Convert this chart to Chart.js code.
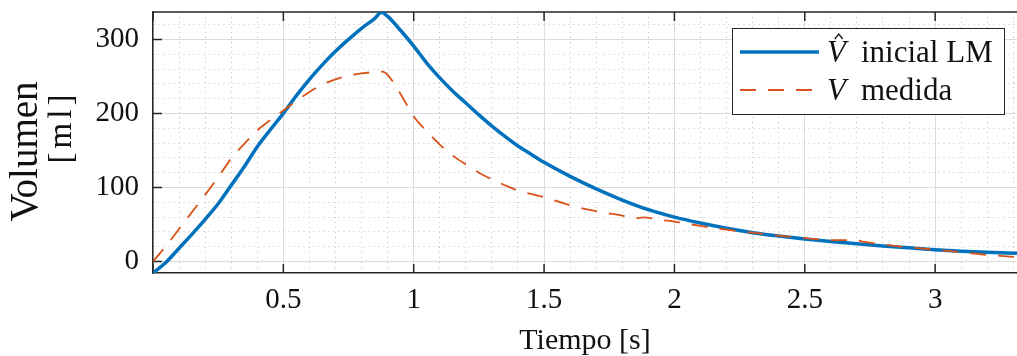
<!DOCTYPE html>
<html><head><meta charset="utf-8">
<script src="https://cdn.jsdelivr.net/npm/chart.js@4.4.1/dist/chart.umd.min.js"></script>
<style>html,body{margin:0;padding:0;background:#fff;overflow:hidden}</style>
</head><body>
<canvas id="c" width="1017" height="356"></canvas>
<script>
// ---- data ----
const tBlue = [0.000, 0.050, 0.100, 0.150, 0.200, 0.250, 0.290, 0.350, 0.400, 0.450, 0.500, 0.550, 0.600, 0.650, 0.700, 0.750, 0.800, 0.850, 0.876, 0.900, 0.950, 1.000, 1.050, 1.100, 1.150, 1.200, 1.250, 1.300, 1.350, 1.400, 1.450, 1.500, 1.600, 1.700, 1.800, 1.900, 2.000, 2.100, 2.200, 2.300, 2.400, 2.500, 2.600, 2.700, 2.800, 2.900, 3.000, 3.100, 3.200, 3.314];
const vBlue = [-15.5, -1, 18, 37, 57, 78, 98, 128, 155, 178, 200, 224, 246, 266, 284, 300, 315, 328, 336.5, 331, 312, 291, 268, 248, 230, 214, 198, 183, 169, 156, 145, 134, 115, 98, 83, 70, 60, 52, 45, 39, 34.5, 30.5, 27, 24, 21, 18.5, 16, 14, 12.5, 11.3];
const tMeas = [0.000, 0.050, 0.100, 0.150, 0.200, 0.250, 0.300, 0.350, 0.400, 0.450, 0.500, 0.550, 0.600, 0.650, 0.700, 0.750, 0.800, 0.850, 0.880, 0.900, 0.950, 1.000, 1.050, 1.100, 1.150, 1.200, 1.250, 1.300, 1.350, 1.400, 1.500, 1.600, 1.700, 1.800, 1.850, 1.880, 1.950, 2.000, 2.100, 2.200, 2.300, 2.400, 2.500, 2.600, 2.700, 2.730, 2.800, 2.900, 3.000, 3.100, 3.200, 3.314];
const vMeas = [0, 21, 44, 67, 90, 114, 139, 159, 177, 191, 204, 217, 229, 239, 246, 251, 254, 256, 256.5, 252, 226, 196, 176, 158, 143, 131, 120, 111, 103, 96, 87, 76, 68, 62, 58.5, 59.5, 56, 54, 48, 43, 39, 35, 31.5, 29, 28.5, 26.5, 23, 19, 16, 12.5, 9, 6];
const xRange = [0, 3.314];
const yRange = [-15.5, 337];
const xStep = 0.1, xMajorStep = 0.5;
const yStep = 20, yMajorStep = 100;
const xTitle = 'Tiempo [s]';
const yTitleLines = ['Volumen', '[ml]'];
const legendRows = [{sym: 'V', hat: true, text: 'inicial LM'}, {sym: 'V', hat: false, text: 'medida'}];

const FONT = '"Liberation Serif", "Times New Roman", serif';
const TXT = '#111111';
const AX = '#262626';

function isMult(v, s) { const r = v / s; return Math.abs(r - Math.round(r)) < 1e-6; }
function gridColor(c, major, minor) {
  if (!c.tick) return 'rgba(0,0,0,0)';
  const v = c.tick.value;
  if (isMult(v, major)) return '#dcdcdc';
  if (isMult(v, minor)) return '#c2c2c2';
  return 'rgba(0,0,0,0)';
}
function gridDash(c, major) {
  if (!c.tick) return [];
  return isMult(c.tick.value, major) ? [] : [1, 4];
}
function stepTicks(s, step) {
  const out = [];
  const n0 = Math.ceil(s.min / step - 1e-9), n1 = Math.floor(s.max / step + 1e-9);
  for (let k = n0; k <= n1; k++) out.push({value: +(k * step).toFixed(6)});
  s.ticks = out;
}
function majorValues(s, step) {
  return s.ticks.map(t => t.value).filter(v => isMult(v, step));
}

const frame = {
  id: 'frame',
  beforeDatasetsDraw(chart) {
    const {ctx, chartArea: a, scales: {x, y}} = chart;
    ctx.save();
    ctx.strokeStyle = AX; ctx.lineWidth = 1.5;
    ctx.beginPath(); ctx.moveTo(a.left, a.top); ctx.lineTo(a.right, a.top); ctx.stroke();
    const L = 9;
    ctx.beginPath();
    majorValues(x, xMajorStep).forEach(v => { const p = x.getPixelForValue(v);
      ctx.moveTo(p, a.bottom); ctx.lineTo(p, a.bottom - L);
      ctx.moveTo(p, a.top); ctx.lineTo(p, a.top + L); });
    majorValues(y, yMajorStep).forEach(v => { const p = y.getPixelForValue(v);
      ctx.moveTo(a.left, p); ctx.lineTo(a.left + L, p); });
    ctx.stroke();
    // y title
    ctx.fillStyle = TXT;
    ctx.textBaseline = 'alphabetic';
    ctx.save();
    ctx.translate(37, 151.5); ctx.rotate(-Math.PI / 2);
    ctx.font = '39px ' + FONT; ctx.textAlign = 'center';
    ctx.fillText(yTitleLines[0], 0, 0);
    ctx.restore();
    ctx.save();
    ctx.translate(71, 129); ctx.rotate(-Math.PI / 2);
    ctx.font = '33px ' + FONT; ctx.textAlign = 'left';
    const chars = yTitleLines[1].split('');
    const gap = 4;
    const ws = chars.map(ch => ctx.measureText(ch).width);
    const total = ws.reduce((s, w) => s + w, 0) + gap * (chars.length - 1);
    let cx = -total / 2;
    chars.forEach((ch, i) => { ctx.fillText(ch, cx, 0); cx += ws[i] + gap; });
    ctx.restore();
    ctx.restore();
  },
  afterDatasetsDraw(chart) {
    const {ctx, chartArea: a} = chart;
    const ds = chart.data.datasets;
    ctx.save();
    const bw = 272, bh = 86;
    const bx = a.right - 13 - bw, by = a.top + 16;
    ctx.fillStyle = '#fff'; ctx.fillRect(bx, by, bw, bh);
    ctx.strokeStyle = AX; ctx.lineWidth = 1; ctx.strokeRect(bx + 0.5, by + 0.5, bw, bh);
    legendRows.forEach((r, i) => {
      const d = ds[i];
      const ly = by + 24 + i * 38;
      ctx.save();
      ctx.strokeStyle = d.borderColor; ctx.lineWidth = d.borderWidth;
      ctx.setLineDash(d.borderDash || []);
      ctx.beginPath(); ctx.moveTo(bx + 8, ly); ctx.lineTo(bx + 87, ly); ctx.stroke();
      ctx.restore();
      const base = ly + 10;
      ctx.fillStyle = TXT; ctx.textAlign = 'left'; ctx.textBaseline = 'alphabetic';
      ctx.font = 'italic 31px ' + FONT;
      const vx = bx + 95;
      ctx.fillText(r.sym, vx, base);
      if (r.hat) {
        const hw = ctx.measureText(r.sym).width;
        const hc = vx + hw * 0.62;
        ctx.strokeStyle = TXT; ctx.lineWidth = 1.3;
        ctx.beginPath(); ctx.moveTo(hc - 4, base - 23); ctx.lineTo(hc, base - 28); ctx.lineTo(hc + 4, base - 23);
        ctx.stroke();
      }
      ctx.font = '31px ' + FONT;
      ctx.fillText(r.text, bx + 129, base);
    });
    ctx.restore();
  }
};

new Chart(document.getElementById('c'), {
  type: 'line',
  data: {
    datasets: [
      {label: 'V inicial LM', data: tBlue.map((t, i) => ({x: t, y: vBlue[i]})),
       borderColor: '#0072BD', borderWidth: 3.5, pointRadius: 0, fill: false,
       cubicInterpolationMode: 'monotone', order: 1},
      {label: 'V medida', data: tMeas.map((t, i) => ({x: t, y: vMeas[i]})),
       borderColor: '#D95319', borderWidth: 1.8, borderDash: [16, 12], pointRadius: 0, fill: false,
       cubicInterpolationMode: 'monotone', order: 0}
    ]
  },
  options: {
    responsive: false, animation: false, devicePixelRatio: 1,
    layout: {padding: {top: 12, right: 0, left: 0, bottom: 0}},
    plugins: {legend: {display: false}, tooltip: {enabled: false}},
    scales: {
      x: {
        type: 'linear', min: xRange[0], max: xRange[1],
        afterBuildTicks: s => stepTicks(s, xStep),
        ticks: {autoSkip: false, maxRotation: 0, minRotation: 0, padding: 10,
                color: TXT, font: {family: FONT, size: 29},
                callback: v => (isMult(v, xMajorStep) && Math.abs(v) > 1e-9) ? String(Math.round(v * 10) / 10) : ''},
        grid: {drawTicks: false, lineWidth: 1, color: c => gridColor(c, xMajorStep, xStep)},
        border: {display: true, color: AX, width: 1.5, dash: c => gridDash(c, xMajorStep)},
        title: {display: true, text: xTitle, color: TXT, font: {family: FONT, size: 30, lineHeight: 1}, padding: {top: 0, bottom: 0}},
        afterFit(s) { s.height = 83; s.paddingLeft = 0; s.paddingRight = 0; }
      },
      y: {
        type: 'linear', min: yRange[0], max: yRange[1],
        afterBuildTicks: s => stepTicks(s, yStep),
        ticks: {autoSkip: false, padding: 14, color: TXT, font: {family: FONT, size: 29},
                callback: v => isMult(v, yMajorStep) ? String(Math.round(v)) : ''},
        grid: {drawTicks: false, lineWidth: 1, color: c => gridColor(c, yMajorStep, yStep)},
        border: {display: true, color: AX, width: 1.5, dash: c => gridDash(c, yMajorStep)},
        title: {display: false},
        afterFit(s) { s.width = 153; s.paddingTop = 0; s.paddingBottom = 0; }
      }
    }
  },
  plugins: [frame]
});
</script>
</body></html>
